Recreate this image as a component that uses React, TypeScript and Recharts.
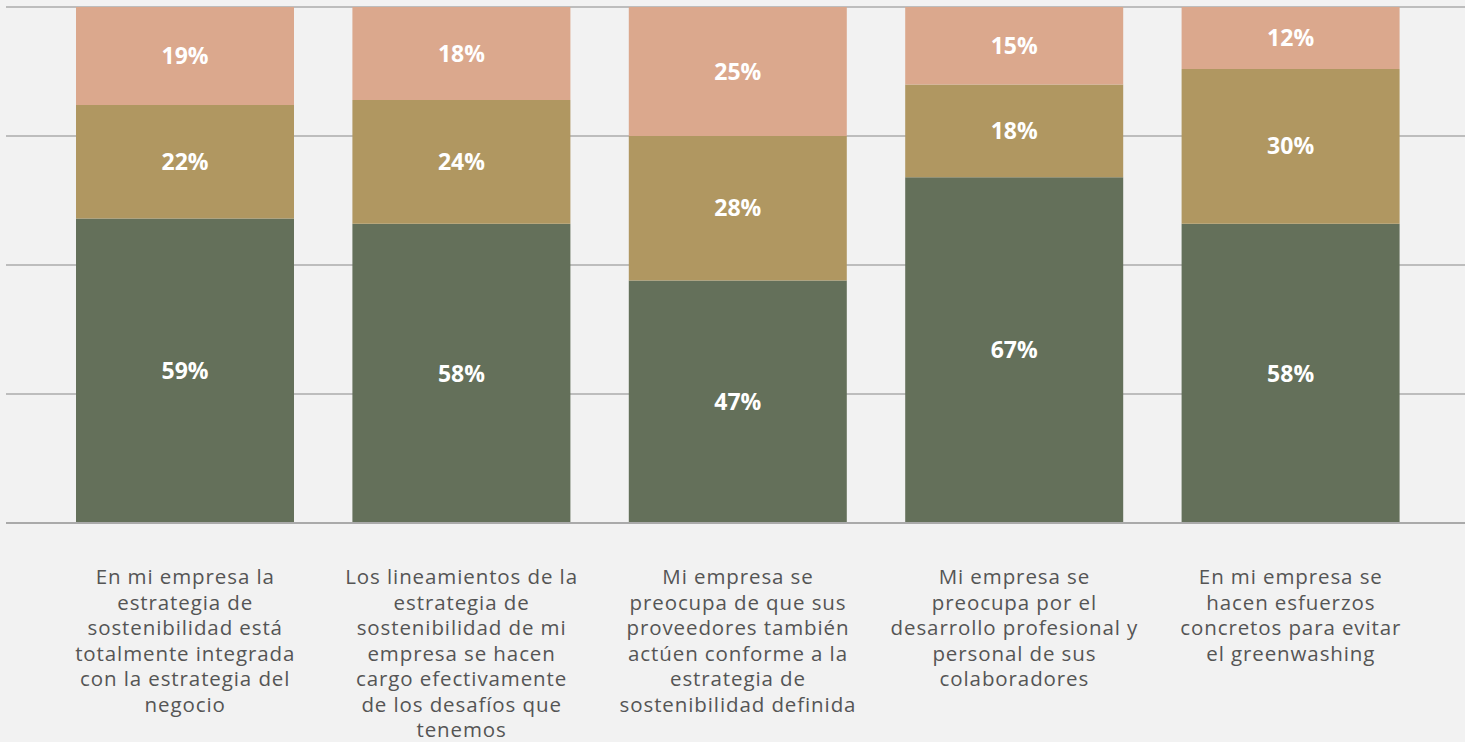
import React from 'react';
import { BarChart, Bar, XAxis, YAxis, CartesianGrid, LabelList } from 'recharts';

const categories = [
  'En mi empresa la\nestrategia de\nsostenibilidad está\ntotalmente integrada\ncon la estrategia del\nnegocio',
  'Los lineamientos de la\nestrategia de\nsostenibilidad de mi\nempresa se hacen\ncargo efectivamente\nde los desafíos que\ntenemos',
  'Mi empresa se\npreocupa de que sus\nproveedores también\nactúen conforme a la\nestrategia de\nsostenibilidad definida',
  'Mi empresa se\npreocupa por el\ndesarrollo profesional y\npersonal de sus\ncolaboradores',
  'En mi empresa se\nhacen esfuerzos\nconcretos para evitar\nel greenwashing',
];

const bottomValues = [59, 58, 47, 67, 58];
const middleValues = [22, 24, 28, 18, 30];
const topValues = [19, 18, 25, 15, 12];

const yTicks = [0, 25, 50, 75, 100];

const data = categories.map((name, i) => ({
  name,
  bottom: bottomValues[i],
  middle: middleValues[i],
  top: topValues[i],
}));

const FONT = '"Open Sans", "Noto Sans", sans-serif';

const CategoryTick = (props: any) => {
  const { x, y, payload } = props;
  const lines = String(payload.value).split('\n');
  return (
    <text
      x={x}
      y={y}
      textAnchor="middle"
      fill="#555555"
      fontSize={20.5}
      letterSpacing={0.9}
      fontFamily={FONT}
    >
      {lines.map((line, i) => (
        <tspan key={i} x={x} dy={i === 0 ? 61 : 25.5}>
          {line}
        </tspan>
      ))}
    </text>
  );
};

const pct = (v: any) => `${v}%`;

const labelStyle = { fill: '#ffffff', fontSize: 23, fontWeight: 700, fontFamily: FONT };

export default function App() {
  return (
    <div style={{ position: 'absolute', left: 0, top: 0, width: 1465, height: 742, background: '#f2f2f2' }}>
      <BarChart
        width={1465}
        height={742}
        data={data}
        margin={{ top: 7, right: 0, left: 6, bottom: 0 }}
      >
        <CartesianGrid vertical={false} stroke="#bdbdbd" strokeWidth={2} />
        <XAxis
          dataKey="name"
          height={219}
          interval={0}
          padding={{ left: 41, right: 36 }}
          axisLine={{ stroke: '#aaaaaa', strokeWidth: 2 }}
          tickLine={false}
          tickSize={0}
          tickMargin={0}
          tick={<CategoryTick />}
        />
        <YAxis hide domain={[0, 100]} ticks={yTicks} />
        <Bar dataKey="bottom" stackId="a" fill="#64705a" barSize={218} isAnimationActive={false}>
          <LabelList dataKey="bottom" position="center" formatter={pct} style={labelStyle} />
        </Bar>
        <Bar dataKey="middle" stackId="a" fill="#b09761" barSize={218} isAnimationActive={false}>
          <LabelList dataKey="middle" position="center" formatter={pct} style={labelStyle} />
        </Bar>
        <Bar dataKey="top" stackId="a" fill="#dba88d" barSize={218} isAnimationActive={false}>
          <LabelList dataKey="top" position="center" formatter={pct} style={labelStyle} />
        </Bar>
      </BarChart>
    </div>
  );
}
